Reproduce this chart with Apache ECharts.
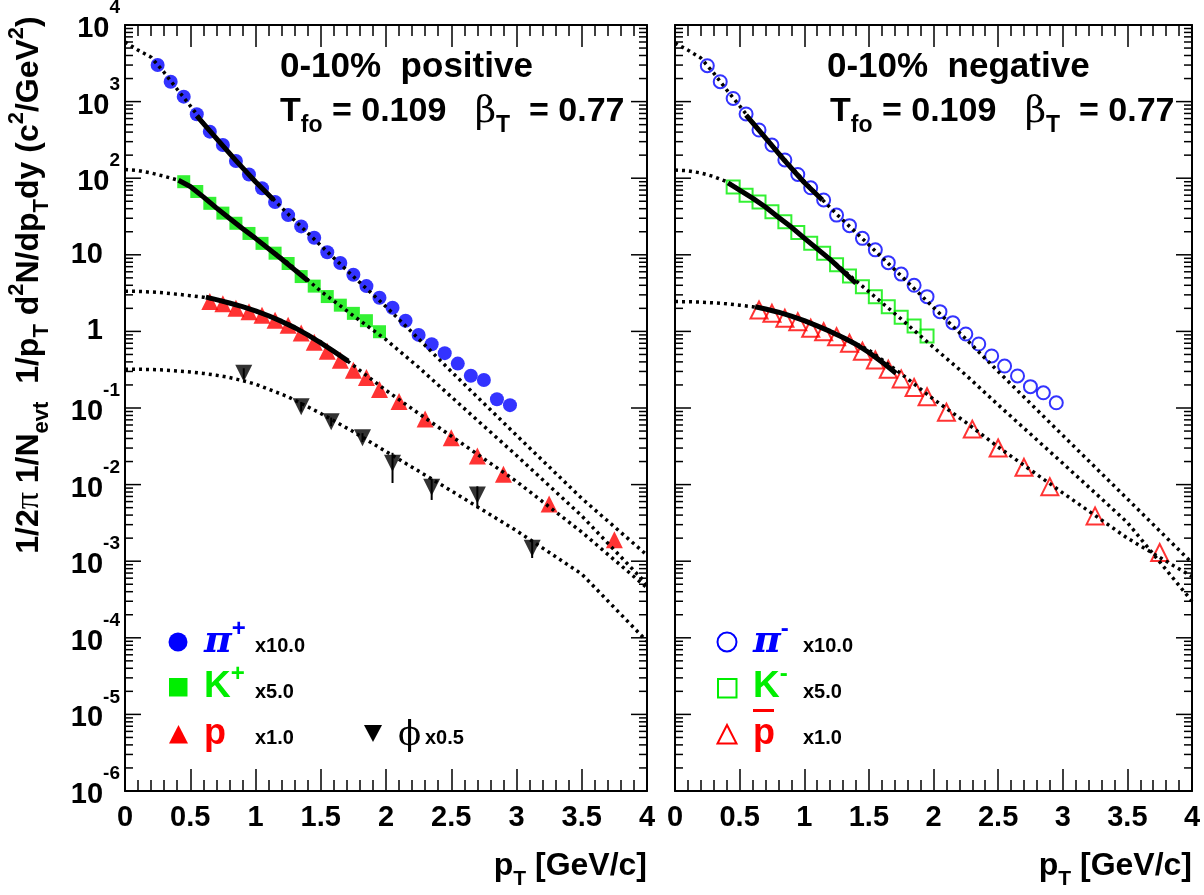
<!DOCTYPE html>
<html><head><meta charset="utf-8">
<script src="https://cdn.jsdelivr.net/npm/echarts@6/dist/echarts.min.js"></script>
<style>html,body{margin:0;padding:0;background:#fff}#c{width:1204px;height:895px}</style>
</head><body><div id="c"></div>
<script>
// ---------------- data ----------------
const ptPi = [0.25,0.35,0.45,0.55,0.65,0.75,0.85,0.95,1.05,1.15,1.25,1.35,1.45,1.55,1.65,1.75,1.85,1.95,2.05,2.15,2.25,2.35,2.45,2.55,2.65,2.75,2.85,2.95];
const piPlus  = [3000,1820,1160,683,405,271,168,112,74,49,33,23.5,16.7,10.8,7.8,5.5,3.9,2.75,2.04,1.38,0.90,0.68,0.52,0.38,0.264,0.232,0.13,0.109];
const piMinus = [2940,1820,1100,690,426,271,173,112,75,52,33,24,16.4,11.6,7.9,5.6,4.0,2.84,1.81,1.30,0.925,0.685,0.478,0.353,0.262,0.19,0.158,0.117];

const ptK = [0.45,0.55,0.65,0.75,0.85,0.95,1.05,1.15,1.25,1.35,1.45,1.55,1.65,1.75,1.85,1.95];
const kPlus  = [90,67,47,35,25.8,19,14.1,10.5,7.7,5.2,3.9,2.85,2.2,1.72,1.38,0.99];
const kMinus = [77,60,49,36.6,27,19.6,14.1,10.5,7.4,5.3,3.83,2.84,2.1,1.53,1.18,0.87];

const ptP = [0.65,0.75,0.85,0.95,1.05,1.15,1.25,1.35,1.45,1.55,1.65,1.75,1.85,1.95,2.1,2.3,2.5,2.7,2.9,3.25,3.75];
const proton     = [2.45,2.3,2.0,1.8,1.62,1.4,1.2,0.95,0.72,0.55,0.42,0.31,0.25,0.175,0.122,0.072,0.041,0.0236,0.0136,0.0056,0.0019];
const antiproton = [1.9,1.72,1.48,1.34,1.1,0.99,0.85,0.70,0.55,0.424,0.32,0.24,0.185,0.14,0.088,0.053,0.030,0.0168,0.0094,0.0039,0.0013];

const ptPhi   = [0.91,1.35,1.58,1.82,2.05,2.35,2.7,3.12];
const phi     = [0.284,0.104,0.066,0.041,0.019,0.0092,0.0073,0.00148];
const phiLow  = [0.24,0.09,0.058,0.036,0.0105,0.0063,0.0049,0.0011];
const phiHigh = [0.33,0.12,0.075,0.047,0.026,0.012,0.0095,0.0019];

// blast-wave curves (dotted)
const curvePt      = [0,0.1,0.2,0.3,0.4,0.5,0.6,0.7,0.8,0.9,1.0,1.25,1.5,1.75,2.0,2.25,2.5,3.0,3.5,4.0];
const bwPiPlus     = [6000,4700,3800,2400,1450,880,530,330,214,138,90,34,13.2,5.2,2.1,0.8,0.3,0.044,0.0066,0.0012];
const bwKPlus      = [130,126,117,106,95,78,57,41,30,22,16.4,7.8,3.35,1.6,0.78,0.34,0.14,0.024,0.0039,0.0005];
const bwProton     = [3.35,3.33,3.27,3.18,3.06,2.93,2.8,2.58,2.35,2.1,1.85,1.25,0.73,0.36,0.17,0.085,0.043,0.011,0.0024,0.00045];
const bwPhi        = [0.32,0.32,0.318,0.313,0.305,0.295,0.283,0.268,0.25,0.228,0.205,0.14,0.085,0.049,0.027,0.015,0.0083,0.0025,0.00068,0.00009];
const bwPiMinus    = [5800,4700,3700,2350,1420,880,540,340,218,140,91,34,13.5,5.3,2.05,0.8,0.3,0.044,0.0065,0.00095];
const bwKMinus     = [128,125,117,105,90,70,55,42,31,23,16.5,7.5,3.3,1.45,0.62,0.27,0.11,0.019,0.0032,0.0003];
const bwAntiproton = [2.45,2.44,2.41,2.36,2.29,2.2,2.1,1.95,1.77,1.57,1.37,0.93,0.57,0.28,0.13,0.065,0.031,0.0078,0.002,0.00063];

// fitted ranges (solid)
const fitPiPt   = [0.55,0.7,0.85,1.0,1.14];
const fitPiPos  = [650,330,170,90,52];
const fitPiNeg  = [668,335,168,88,52];
const fitKPt    = [0.41,0.5,0.6,0.7,0.8,0.9,1.0,1.2,1.4];
const fitKPos   = [94,78,57,41,30,22,16.4,8.8,4.6];
const fitKNeg   = [87,70,55,42,31,23,16.5,8.7,4.25];
const fitPPt    = [0.62,0.7,0.8,0.9,1.0,1.1,1.2,1.3,1.4,1.5,1.6,1.71];
const fitPPos   = [2.8,2.6,2.35,2.1,1.85,1.6,1.35,1.12,0.9,0.71,0.55,0.41];
const fitPNeg   = [2.1,1.96,1.78,1.58,1.38,1.18,1.0,0.83,0.68,0.53,0.40,0.284];

const xTicks = ['0','0.5','1','1.5','2','2.5','3','3.5','4'];
const yDecades = [1e-6,1e-5,1e-4,1e-3,1e-2,1e-1,1,10,100,1000,10000];

// ---------------- chart ----------------
const FONT = 'Liberation Sans';
const BLUE = '#0000ff', GREEN = '#00ee00', RED = '#ff0000';
const zip = (xs, ys) => xs.map((x, i) => [x, ys[i]]);

const minorY = [];
for (let e = -6; e < 4; e++) for (let m = 2; m <= 9; m++) minorY.push(m * Math.pow(10, e));

function mkX(g, pos, lab) {
  return {type: 'value', gridIndex: g, position: pos, min: 0, max: 4, interval: 0.5,
    axisLine: {show: true, onZero: false, lineStyle: {color: '#000', width: 2}},
    axisTick: {show: true, inside: true, length: 22, lineStyle: {color: '#000', width: 1.5}},
    minorTick: {show: true, splitNumber: 5, length: 11, lineStyle: {color: '#000', width: 1.5}},
    splitLine: {show: false}, minorSplitLine: {show: false},
    axisLabel: {show: lab, margin: 12, fontSize: 29, fontWeight: 'bold', color: '#000', fontFamily: FONT,
      formatter: v => xTicks[Math.round(v * 2)]}};
}
function mkY(g, pos) {
  return {type: 'log', logBase: 10, gridIndex: g, position: pos, min: 1e-6, max: 1e4,
    axisLine: {show: true, onZero: false, lineStyle: {color: '#000', width: 2}},
    axisTick: {show: false}, axisLabel: {show: false},
    splitLine: {show: false}, minorTick: {show: false}};
}
function yFmt(v) {
  const e = Math.round(Math.log10(v));
  if (e === 0) return '{m0|1}{p| }';
  if (e === 1) return '{m0|10}{p| }';
  return '{m|10}{s|' + e + '}';
}
const richYLab = {
  m0: {fontSize: 29, fontWeight: 'bold', fontFamily: FONT, fill: '#000'},
  m: {fontSize: 29, fontWeight: 'bold', fontFamily: FONT, fill: '#000', padding: [8, 0, 0, 0]},
  s: {fontSize: 19, fontWeight: 'bold', fontFamily: FONT, fill: '#000', padding: [0, 0, 34, 0]},
  p: {width: 17, fontSize: 10}
};

function scatter(xi, xs, ys, symbol, size, color, hollow, rotate) {
  return {type: 'scatter', xAxisIndex: xi, yAxisIndex: xi, data: zip(xs, ys), symbol, symbolSize: size,
    symbolRotate: rotate || 0, z: 2, silent: true,
    itemStyle: hollow ? {color: 'rgba(0,0,0,0)', borderColor: color, borderWidth: 2} : {color}};
}
function dotted(xi, ys) {
  return {type: 'line', xAxisIndex: xi, yAxisIndex: xi, data: zip(curvePt, ys), smooth: false,
    showSymbol: false, symbol: 'none', silent: true, z: 3,
    lineStyle: {color: '#000', width: 3.5, type: [3, 4]}};
}
function solid(xi, xs, ys) {
  return {type: 'line', xAxisIndex: xi, yAxisIndex: xi, data: zip(xs, ys), smooth: false,
    showSymbol: false, symbol: 'none', silent: true, z: 4,
    lineStyle: {color: '#000', width: 5, join: 'round'}};
}
function yTicks(xi, labels) {
  return {type: 'custom', xAxisIndex: xi, yAxisIndex: xi, silent: true, z: 5, clip: false,
    data: minorY.map(v => [0, v, 0]).concat(yDecades.map(v => [0, v, 1])),
    renderItem: (p, api) => {
      const v = api.value(1), major = api.value(2) === 1;
      const len = major ? 16 : 8;
      const l = api.coord([0, v]), r = api.coord([4, v]);
      const ch = [
        {type: 'line', shape: {x1: l[0], y1: l[1], x2: l[0] + len, y2: l[1]}, style: {stroke: '#000', lineWidth: 1.5}},
        {type: 'line', shape: {x1: r[0] - len, y1: r[1], x2: r[0], y2: r[1]}, style: {stroke: '#000', lineWidth: 1.5}}
      ];
      if (labels && major) {
        ch.push({type: 'text', x: l[0] - 5, y: l[1],
          style: {text: yFmt(v), rich: richYLab, align: 'right', verticalAlign: 'middle',
            fontFamily: FONT, fontWeight: 'bold', fontSize: 29, fill: '#000'}});
      }
      return {type: 'group', children: ch};
    }};
}
const errorBars = {type: 'custom', xAxisIndex: 0, yAxisIndex: 0, silent: true, z: 2,
  data: ptPhi.map((x, i) => [x, phiLow[i], phiHigh[i]]),
  renderItem: (p, api) => {
    const a = api.coord([api.value(0), api.value(1)]);
    const b = api.coord([api.value(0), api.value(2)]);
    return {type: 'line', shape: {x1: a[0], y1: a[1], x2: b[0], y2: b[1]}, style: {stroke: '#000', lineWidth: 2}};
  }};

// text helpers
function txt(x, y, text, extra, rich) {
  return {type: 'text', x, y, z: 100, silent: true,
    style: Object.assign({text, rich: rich || {}, align: 'left', verticalAlign: 'middle',
      fontFamily: FONT, fontWeight: 'bold', fontSize: 30, fill: '#000'}, extra || {})};
}
const richT = {
  a: {fontSize: 34, fontWeight: 'bold', fontFamily: FONT, fill: '#000'},
  b: {fontSize: 37, fontFamily: 'DejaVu Serif', fill: '#000'},
  sub: {fontSize: 23, fontWeight: 'bold', fontFamily: FONT, fill: '#000', padding: [28, 0, 0, 0]}
};
const richAx = {
  a: {fontSize: 32, fontWeight: 'bold', fontFamily: FONT, fill: '#000'},
  sub: {fontSize: 21, fontWeight: 'bold', fontFamily: FONT, fill: '#000', padding: [26, 0, 0, 0]}
};
const richY = {
  a: {fontSize: 32, fontWeight: 'bold', fontFamily: FONT, fill: '#000'},
  g: {fontSize: 34, fontFamily: 'Liberation Serif', fill: '#000'},
  sub: {fontSize: 22, fontWeight: 'bold', fontFamily: FONT, fill: '#000', padding: [25, 0, 0, 0]},
  sup: {fontSize: 22, fontWeight: 'bold', fontFamily: FONT, fill: '#000', padding: [0, 0, 25, 0]}
};
function richLeg(color) {
  return {
    g: {fontSize: 38, fontStyle: 'italic', fontWeight: 'bold', fontFamily: 'DejaVu Serif', fill: color},
    k: {fontSize: 37, fontWeight: 'bold', fontFamily: FONT, fill: color},
    s: {fontSize: 24, fontWeight: 'bold', fontFamily: FONT, fill: color, padding: [0, 0, 26, 0]}
  };
}
const yTitle = '{a|1/2}{g|π}{a| 1/N}{sub|evt}{a|  1/p}{sub|T}{a| d}{sup|2}{a|N/dp}{sub|T}{a|dy (c}{sup|2}{a|/GeV}{sup|2}{a|)}';
const tLine = '{a|T}{sub|fo}{a| = 0.109   }{b|β}{sub|T}{a|  = 0.77}';

const graphic = [
  Object.assign(txt(29, 285, yTitle, {align: 'center'}, richY), {rotation: Math.PI / 2}),
  txt(280, 67, '0-10%  positive', {fontSize: 35}),
  txt(280, 112, tLine, {}, richT),
  txt(827, 67, '0-10%  negative', {fontSize: 35}),
  txt(830, 112, tLine, {}, richT),
  txt(647, 866, '{a|p}{sub|T}{a| [GeV/c]}', {align: 'right'}, richAx),
  txt(1192, 866, '{a|p}{sub|T}{a| [GeV/c]}', {align: 'right'}, richAx),
  // left legend
  {type: 'circle', z: 100, shape: {cx: 178, cy: 642, r: 9.5}, style: {fill: BLUE}},
  txt(204, 642, '{g|π}{s|+}', {}, richLeg(BLUE)),
  txt(255, 646, 'x10.0', {fontSize: 20}),
  {type: 'rect', z: 100, shape: {x: 169, y: 678, width: 18.5, height: 18.5}, style: {fill: GREEN}},
  txt(204, 687, '{k|K}{s|+}', {}, richLeg(GREEN)),
  txt(255, 692, 'x5.0', {fontSize: 20}),
  {type: 'polygon', z: 100, shape: {points: [[178.5, 725], [169, 743.5], [188, 743.5]]}, style: {fill: RED}},
  txt(204, 734, 'p', {fontSize: 36, fill: RED}),
  txt(255, 738, 'x1.0', {fontSize: 20}),
  {type: 'polygon', z: 100, shape: {points: [[364, 725], [382, 725], [373, 742]]}, style: {fill: '#000'}},
  txt(398, 736, 'ϕ', {fontSize: 34, fontWeight: 'normal', fontFamily: 'DejaVu Serif'}),
  txt(425, 738, 'x0.5', {fontSize: 20}),
  // right legend
  {type: 'circle', z: 100, shape: {cx: 727, cy: 642, r: 9.5}, style: {fill: 'none', stroke: BLUE, lineWidth: 2}},
  txt(753, 642, '{g|π}{s|-}', {}, richLeg(BLUE)),
  txt(803, 646, 'x10.0', {fontSize: 20}),
  {type: 'rect', z: 100, shape: {x: 718, y: 679, width: 18.5, height: 18.5}, style: {fill: 'none', stroke: GREEN, lineWidth: 2}},
  txt(753, 687, '{k|K}{s|-}', {}, richLeg(GREEN)),
  txt(803, 692, 'x5.0', {fontSize: 20}),
  {type: 'polygon', z: 100, shape: {points: [[727, 725], [717.5, 743.5], [736.5, 743.5]]}, style: {fill: 'none', stroke: RED, lineWidth: 2}},
  txt(753, 734, 'p', {fontSize: 36, fill: RED}),
  {type: 'rect', z: 100, shape: {x: 753, y: 709, width: 21, height: 3}, style: {fill: RED}},
  txt(803, 738, 'x1.0', {fontSize: 20})
];

const option = {
  animation: false,
  backgroundColor: '#fff',
  grid: [{left: 125, top: 25, width: 522, height: 766}, {left: 675, top: 25, width: 517, height: 766}],
  xAxis: [mkX(0, 'bottom', true), mkX(0, 'top', false), mkX(1, 'bottom', true), mkX(1, 'top', false)],
  yAxis: [mkY(0, 'left'), mkY(0, 'right'), mkY(1, 'left'), mkY(1, 'right')],
  series: [
    yTicks(0, true), yTicks(2, false),
    scatter(0, ptPi, piPlus, 'circle', 14, BLUE),
    scatter(0, ptK, kPlus, 'rect', 13, GREEN),
    scatter(0, ptP, proton, 'triangle', 17, RED),
    errorBars,
    scatter(0, ptPhi, phi, 'triangle', 17, '#000', false, 180),
    dotted(0, bwPiPlus), dotted(0, bwKPlus), dotted(0, bwProton), dotted(0, bwPhi),
    solid(0, fitPiPt, fitPiPos), solid(0, fitKPt, fitKPos), solid(0, fitPPt, fitPPos),
    scatter(2, ptPi, piMinus, 'circle', 13, BLUE, true),
    scatter(2, ptK, kMinus, 'rect', 13, GREEN, true),
    scatter(2, ptP, antiproton, 'triangle', 17, RED, true),
    dotted(2, bwPiMinus), dotted(2, bwKMinus), dotted(2, bwAntiproton),
    solid(2, fitPiPt, fitPiNeg), solid(2, fitKPt, fitKNeg), solid(2, fitPPt, fitPNeg)
  ],
  graphic
};

const chart = echarts.init(document.getElementById('c'), null, {renderer: 'canvas'});
chart.setOption(option);
</script>
</body></html>
